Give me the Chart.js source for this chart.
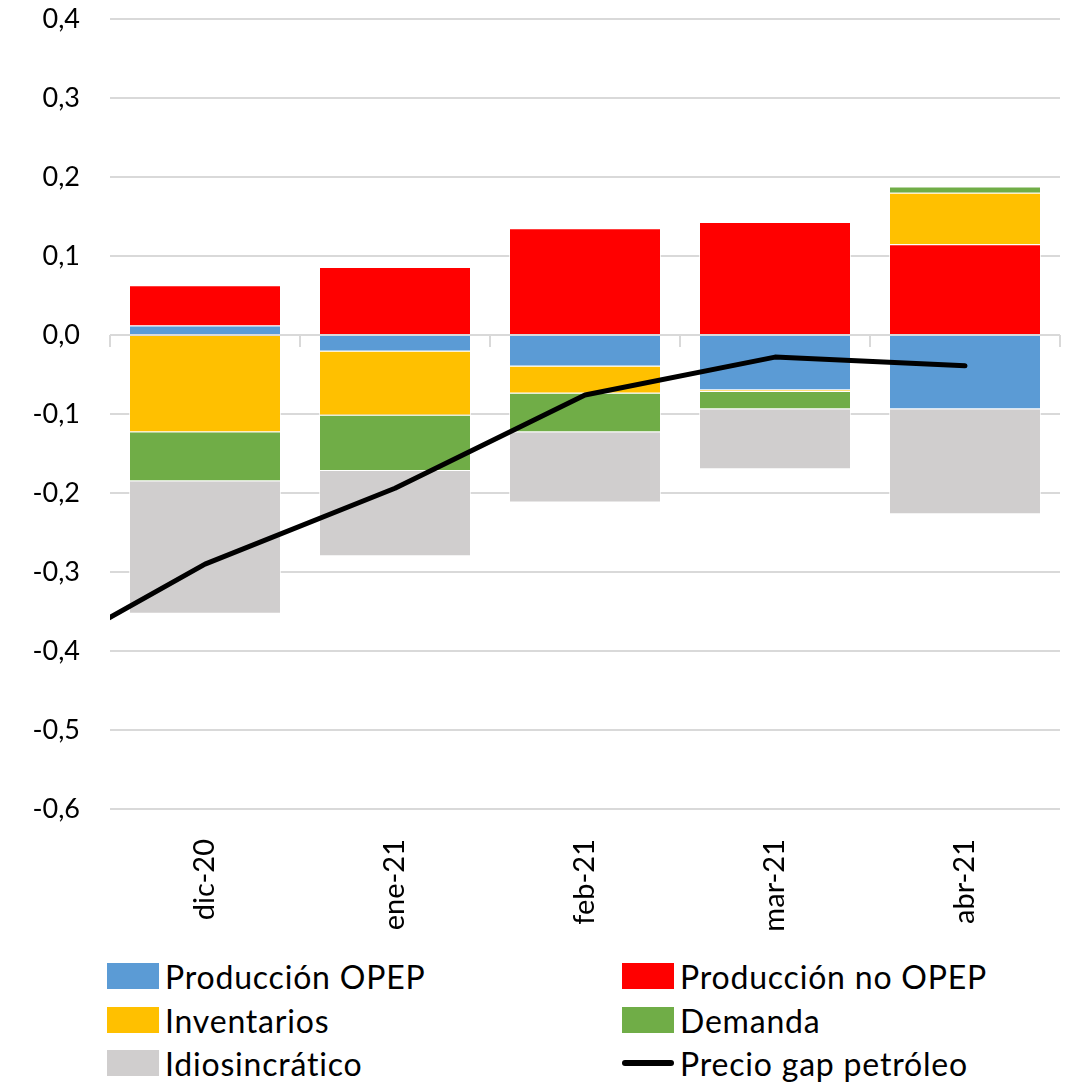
<!DOCTYPE html>
<html>
<head>
<meta charset="utf-8">
<script src="https://cdn.jsdelivr.net/npm/chart.js@4.4.1/dist/chart.umd.min.js"></script>
<style>
  html, body { margin: 0; padding: 0; background: #fff; }
  #wrap { position: relative; width: 1068px; height: 1083px; }
  #chart { position: absolute; left: 0; top: 0; }
  .leg { position: absolute; display: flex; align-items: center; font-family: Lato, "Open Sans", sans-serif; font-size: 32px; letter-spacing: 0.8px; color: #000; white-space: nowrap; }
  .leg .box { width: 52px; height: 26px; margin-right: 6px; }
  .leg .ln { width: 52px; height: 6px; margin-right: 6px; background: #000; border-radius: 3px; }
</style>
</head>
<body>
<div id="wrap">
  <canvas id="chart" width="1068" height="945"></canvas>
  <div id="legend"></div>
</div>
<script>
document.addEventListener('DOMContentLoaded', () => {

    // --- datos ---
    const meses = ['dic-20', 'ene-21', 'feb-21', 'mar-21', 'abr-21'];
    const produccionOpep = [0.012, -0.021, -0.040, -0.070, -0.094];
    const produccionNoOpep = [0.051, 0.086, 0.135, 0.143, 0.115];
    const inventarios = [-0.123, -0.081, -0.034, -0.002, 0.065];
    const demanda = [-0.062, -0.070, -0.049, -0.022, 0.008];
    const idiosincratico = [-0.168, -0.108, -0.089, -0.076, -0.133];
    // el primer punto (nov-20) queda fuera del área, solo se ve el tramo recortado
    const precioGapX = [-1, 0, 1, 2, 3, 4];
    const precioGap = [-0.425, -0.290, -0.194, -0.076, -0.028, -0.039];
    const yTicks = [0.4, 0.3, 0.2, 0.1, 0.0, -0.1, -0.2, -0.3, -0.4, -0.5, -0.6];

    const colores = {
        opep: '#5b9bd5',
        noOpep: '#ff0000',
        inventarios: '#ffc000',
        demanda: '#70ad47',
        idio: '#d0cece',
        linea: '#000000'
    };

    const fontY = { family: 'Lato, "Open Sans", sans-serif', size: 27 };
    const fontX = { family: 'Lato, "Open Sans", sans-serif', size: 29 };

    function barSet(label, data, color) {
        return {
            type: 'bar',
            label: label,
            data: data,
            backgroundColor: color,
            borderColor: 'rgba(255,255,255,0.7)',
            borderWidth: 1,
            grouped: false,
            order: 2,
            categoryPercentage: 0.8,
            barPercentage: 1.0
        };
    }

    // marcas pequeñas bajo la línea del cero entre categorías
    const zeroTicks = {
        id: 'zeroTicks',
        beforeDatasetsDraw(chart) {
            const { ctx, chartArea, scales } = chart;
            const y0 = scales.y.getPixelForValue(0);
            const n = meses.length;
            const w = (chartArea.right - chartArea.left) / n;
            ctx.save();
            ctx.strokeStyle = '#d9d9d9';
            ctx.lineWidth = 2;
            ctx.beginPath();
            for (let i = 0; i <= n; i++) {
                const x = Math.round(chartArea.left + i * w);
                ctx.moveTo(x, y0);
                ctx.lineTo(x, y0 + 12);
            }
            ctx.stroke();
            ctx.restore();
        }
    };

    const ctx = document.getElementById('chart').getContext('2d');
    new Chart(ctx, {
        data: {
            labels: meses,
            datasets: [
                barSet('Producción OPEP', produccionOpep, colores.opep),
                barSet('Producción no OPEP', produccionNoOpep, colores.noOpep),
                barSet('Inventarios', inventarios, colores.inventarios),
                barSet('Demanda', demanda, colores.demanda),
                barSet('Idiosincrático', idiosincratico, colores.idio),
                {
                    type: 'line',
                    label: 'Precio gap petróleo',
                    data: precioGapX.map((x, i) => ({ x: x, y: precioGap[i] })),
                    xAxisID: 'x2',
                    stack: 'linea',
                    order: 1,
                    borderColor: colores.linea,
                    backgroundColor: colores.linea,
                    borderWidth: 5,
                    borderCapStyle: 'round',
                    borderJoinStyle: 'round',
                    pointRadius: 0,
                    tension: 0
                }
            ]
        },
        options: {
            responsive: false,
            animation: false,
            layout: { padding: { top: 0, right: 8, left: 0, bottom: 0 } },
            plugins: {
                legend: { display: false },
                tooltip: { enabled: false }
            },
            scales: {
                x: {
                    stacked: true,
                    grid: { display: false },
                    border: { display: false },
                    ticks: {
                        color: '#000',
                        font: fontX,
                        minRotation: 90,
                        maxRotation: 90,
                        padding: 22
                    },
                    afterFit: (scale) => {
                        scale.height = 136;
                        scale.paddingLeft = 0;
                        scale.paddingRight = 0;
                    }
                },
                x2: {
                    type: 'linear',
                    display: false,
                    min: -0.5,
                    max: 4.5
                },
                y: {
                    stacked: true,
                    min: -0.6,
                    max: 0.4,
                    grid: { color: '#d9d9d9', lineWidth: 2, drawTicks: false },
                    border: { display: false },
                    afterBuildTicks: (scale) => { scale.ticks = yTicks.map(v => ({ value: v })); },
                    ticks: {
                        color: '#000',
                        font: fontY,
                        padding: 30,
                        callback: (v) => (Math.round(v * 10) / 10).toFixed(1).replace('-0.0', '0.0').replace('.', ',')
                    },
                    afterFit: (scale) => {
                        scale.width = 110;
                        scale.paddingTop = 19;
                        scale.paddingBottom = 0;
                    }
                }
            }
        },
        plugins: [zeroTicks]
    });

    // --- leyenda en dos columnas ---
    const leyenda = [
        { label: 'Producción OPEP', color: colores.opep, x: 107, y: 976 },
        { label: 'Producción no OPEP', color: colores.noOpep, x: 622, y: 976 },
        { label: 'Inventarios', color: colores.inventarios, x: 107, y: 1020 },
        { label: 'Demanda', color: colores.demanda, x: 622, y: 1020 },
        { label: 'Idiosincrático', color: colores.idio, x: 107, y: 1063 },
        { label: 'Precio gap petróleo', color: colores.linea, x: 622, y: 1063, line: true }
    ];
    const legEl = document.getElementById('legend');
    leyenda.forEach(item => {
        const d = document.createElement('div');
        d.className = 'leg';
        d.style.left = item.x + 'px';
        d.style.top = (item.y - 20) + 'px';
        d.style.height = '40px';
        const m = document.createElement('span');
        m.className = item.line ? 'ln' : 'box';
        if (!item.line) m.style.background = item.color;
        const t = document.createElement('span');
        t.textContent = item.label;
        d.appendChild(m);
        d.appendChild(t);
        legEl.appendChild(d);
    });
});
</script>
</body>
</html>
